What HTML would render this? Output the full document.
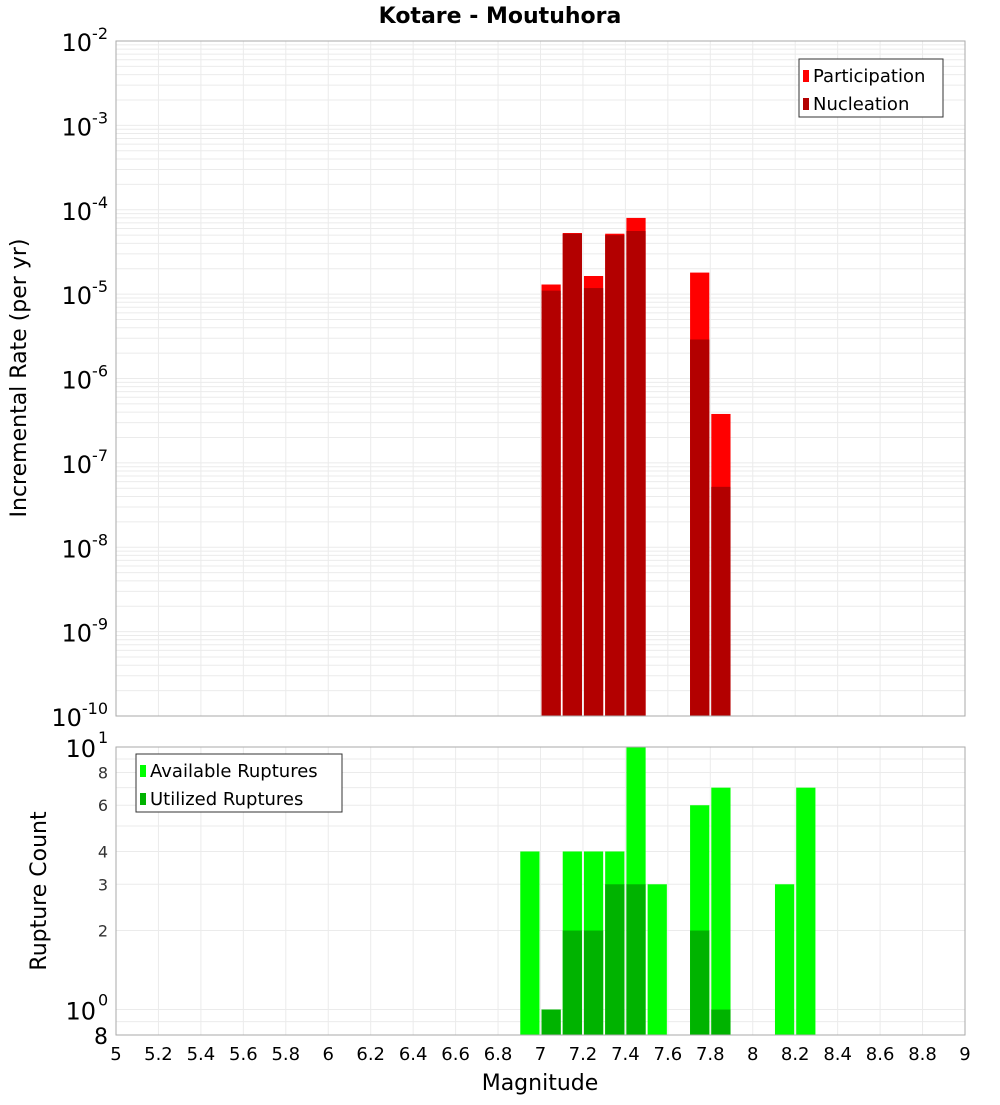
<!DOCTYPE html>
<html><head><meta charset="utf-8"><style>
body{margin:0;background:#fff;font-family:"Liberation Sans","DejaVu Sans",sans-serif}
svg text{font-family:"DejaVu Sans","Liberation Sans",sans-serif}
</style></head><body>
<svg id="chart" width="1000" height="1100" xmlns="http://www.w3.org/2000/svg"></svg>
<script>
const topMags=[7.0,7.1,7.2,7.3,7.4,7.7,7.8];
const participation=[1.3e-5,5.3e-5,1.64e-5,5.2e-5,8.0e-5,1.8e-5,3.8e-7];
const nucleation=[1.1e-5,5.2e-5,1.18e-5,5.0e-5,5.6e-5,2.9e-6,5.2e-8];
const botMags=[6.9,7.0,7.1,7.2,7.3,7.4,7.5,7.7,7.8,8.1,8.2];
const available=[4,1,4,4,4,10,3,6,7,3,7];
const utilized=[0,1,2,2,3,3,0,2,1,0,0];
const xTicks=[5,5.2,5.4,5.6,5.8,6,6.2,6.4,6.6,6.8,7,7.2,7.4,7.6,7.8,8,8.2,8.4,8.6,8.8,9];
const topExps=[-2,-3,-4,-5,-6,-7,-8,-9,-10];
const botTicks=[2,3,4,6,8];

const svg=document.getElementById('chart');
const NS='http://www.w3.org/2000/svg';
function mk(t,a,p){const e=document.createElementNS(NS,t);for(const k in a)e.setAttribute(k,a[k]);(p||svg).appendChild(e);return e;}
const X0=116,X1=965;
const x=m=>X0+(m-5)/4*(X1-X0);
const T0=41,T1=716;
const yT=v=>T0+(-2-Math.log10(v))/8*(T1-T0);
const B0=747,B1=1035;
const yB=v=>B0+(1-Math.log10(v))/(1-Math.log10(0.8))*(B1-B0);

// panels
const gT=mk('g',{});
const gB=mk('g',{});
// grids
for(let e=-10;e<-2;e++)for(let k=1;k<10;k++){const y=yT(k*Math.pow(10,e));mk('line',{x1:X0,x2:X1,y1:y,y2:y,stroke:'#ebebeb','stroke-width':1},gT);}
for(const v of [0.9,1,2,3,4,5,6,7,8,9]){const y=yB(v);mk('line',{x1:X0,x2:X1,y1:y,y2:y,stroke:'#ebebeb'},gB);}
for(const t of xTicks){mk('line',{x1:x(t),x2:x(t),y1:T0,y2:T1,stroke:'#ebebeb'},gT);mk('line',{x1:x(t),x2:x(t),y1:B0,y2:B1,stroke:'#ebebeb'},gB);}
// top bars
const bw=(x(5.1)-x(5))-2;
topMags.forEach((m,i)=>{
 let r=mk('rect',{x:x(m)+1,y:yT(participation[i]),width:bw,height:T1-yT(participation[i]),fill:'#ff0000'},gT);
 
 r=mk('rect',{x:x(m)+1,y:yT(nucleation[i]),width:bw,height:T1-yT(nucleation[i]),fill:'#b30000'},gT);
 
});
botMags.forEach((m,i)=>{
 let r=mk('rect',{x:x(m)+1,y:yB(available[i]),width:bw,height:B1-yB(available[i]),fill:'#00ff00'},gB);
 
 if(utilized[i]>0){r=mk('rect',{x:x(m)+1,y:yB(utilized[i]),width:bw,height:B1-yB(utilized[i]),fill:'#00b300'},gB);
 }
});
mk('rect',{x:X0,y:T0,width:X1-X0,height:T1-T0,fill:'none',stroke:'#aaa'},gT);
mk('rect',{x:X0,y:B0,width:X1-X0,height:B1-B0,fill:'none',stroke:'#aaa'},gB);
// y tick labels top
topExps.forEach(e=>{const y=yT(Math.pow(10,e));
 const t=mk('text',{x:108,y:y+10,'text-anchor':'end','font-size':24,fill:'#000'},gT);
 
 t.innerHTML='10<tspan dy="-12" font-size="16">'+e+'</tspan>';});
// bottom
[[10,1],[1,0]].forEach(([v,e])=>{const t=mk('text',{x:108-12,y:yB(v)+10,'text-anchor':'end','font-size':24},gB);
 
 t.textContent='10';const s=mk('text',{x:98,y:yB(v)-4,'font-size':16},gB);s.textContent=e;});
botTicks.forEach(v=>{const t=mk('text',{x:108,y:yB(v)+6,'text-anchor':'end','font-size':16,fill:'#333'},gB);t.textContent=v;
 });
{const t=mk('text',{x:108,y:B1+9,'text-anchor':'end','font-size':22},gB);t.textContent='8';}
xTicks.forEach(v=>{const t=mk('text',{x:x(v),y:1060,'text-anchor':'middle','font-size':18},gB);t.textContent=String(v);
 });
// titles
let t=mk('text',{x:500,y:23,'text-anchor':'middle','font-size':22,'font-weight':'bold'});t.textContent='Kotare - Moutuhora';

t=mk('text',{x:540,y:1090,'text-anchor':'middle','font-size':22});t.textContent='Magnitude';

t=mk('text',{x:0,y:0,'text-anchor':'middle','font-size':22,transform:'translate(26,378) rotate(-90)'});t.textContent='Incremental Rate (per yr)';

t=mk('text',{x:0,y:0,'text-anchor':'middle','font-size':22,transform:'translate(46,891) rotate(-90)'});t.textContent='Rupture Count';

// legends
function legend(x0,y0,w,items,name){const g=mk('g',{});
 mk('rect',{x:x0,y:y0,width:w,height:58,fill:'#fff',stroke:'#333'},g);
 items.forEach(([c,l],i)=>{mk('rect',{x:x0+4,y:y0+11+i*28,width:6,height:12,fill:c},g);
  const tx=mk('text',{x:x0+14,y:y0+23+i*28,'font-size':18},g);tx.textContent=l;});}
legend(799,59,144,[['#ff0000','Participation'],['#b30000','Nucleation']],'legend-top');
legend(136,754,206,[['#00ff00','Available Ruptures'],['#00b300','Utilized Ruptures']],'legend-bottom');
</script>
</body></html>
